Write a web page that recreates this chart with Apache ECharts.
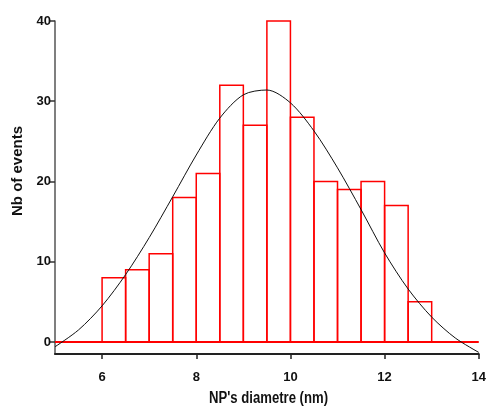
<!DOCTYPE html>
<html><head><meta charset="utf-8">
<script src="https://cdn.jsdelivr.net/npm/echarts@6/dist/echarts.min.js"></script>
<style>html,body{margin:0;padding:0;background:#fff}#c{width:489px;height:413px}</style>
</head><body><div id="c"></div>
<script>
// Histogram bins (nm) and counts
const binStarts = [6, 6.5, 7, 7.5, 8, 8.5, 9, 9.5, 10, 10.5, 11, 11.5, 12, 12.5];
const binWidth = 0.5;
const counts = [8, 9, 11, 18, 21, 32, 27, 40, 28, 20, 19, 20, 17, 5];
// Fitted curve, values
const curveX = [5, 5.5, 6, 6.5, 7, 7.5, 8, 8.5, 9, 9.5, 10, 10.5, 11, 11.5, 12, 12.5, 13, 13.5, 14];
const curveY = [-0.6, 1.5, 4.5, 8.4, 13.0, 18.1, 23.3, 27.9, 30.8, 31.4, 29.8, 26.3, 21.7, 16.5, 11.1, 6.6, 3.1, 0.5, -1.3];
const xTicks = [6, 8, 10, 12, 14];
const yTicks = [0, 10, 20, 30, 40];
const xRange = [5, 14];
const xTitle = "NP's diametre (nm)";
const yTitle = 'Nb of events';

const chart = echarts.init(document.getElementById('c'));
const font = "'Liberation Sans',Arial,sans-serif";
chart.setOption({
  animation: false,
  backgroundColor: '#fff',
  grid: {left: 55, right: 6.5, top: 21, bottom: 59},
  xAxis: {
    type: 'value', min: xRange[0], max: xRange[1],
    axisLine: {onZero: false, lineStyle: {color: '#222', width: 2}},
    axisTick: {customValues: xTicks, length: 5, lineStyle: {color: '#222', width: 1.5}},
    axisLabel: {customValues: xTicks, margin: 17, color: '#111', fontFamily: font, fontWeight: 'bold', fontSize: 13},
    splitLine: {show: false}
  },
  yAxis: {
    type: 'value', min: -1.5, max: 40,
    axisLine: {show: true, onZero: false, lineStyle: {color: '#555', width: 1.5}},
    axisTick: {show: true, customValues: yTicks, length: 5, lineStyle: {color: '#333', width: 1.5}},
    axisLabel: {customValues: yTicks, margin: 4, color: '#111', fontFamily: font, fontWeight: 'bold', fontSize: 13},
    splitLine: {show: false}
  },
  graphic: [
    {
      type: 'text', x: 18, y: 171, rotation: Math.PI / 2,
      style: {text: yTitle, fill: '#111', font: "bold 15px 'Liberation Sans', Arial, sans-serif", align: 'center', verticalAlign: 'middle'}
    },
    {
      type: 'text', x: 268.5, y: 399, scaleX: 0.82,
      style: {text: xTitle, fill: '#111', font: "bold 16px 'Liberation Sans', Arial, sans-serif", align: 'center', verticalAlign: 'middle'}
    }
  ],
  series: [
    {
      type: 'custom',
      data: binStarts.map((s, i) => [s, s + binWidth, counts[i]]),
      renderItem: function (params, api) {
        const p0 = api.coord([api.value(0), api.value(2)]);
        const p1 = api.coord([api.value(1), 0]);
        return {
          type: 'rect',
          shape: {x: p0[0], y: p0[1], width: p1[0] - p0[0], height: p1[1] - p0[1]},
          style: {fill: 'rgba(255,255,255,0)', stroke: '#ff0000', lineWidth: 1.5}
        };
      },
      z: 2
    },
    {
      type: 'line',
      data: [[xRange[0], 0], [xRange[1], 0]],
      symbol: 'none',
      lineStyle: {color: '#ff0000', width: 2},
      z: 3
    },
    {
      type: 'line',
      data: curveX.map((x, i) => [x, curveY[i]]),
      smooth: 0.3,
      symbol: 'none',
      lineStyle: {color: '#111', width: 1},
      z: 4
    }
  ]
});
</script>
</body></html>
